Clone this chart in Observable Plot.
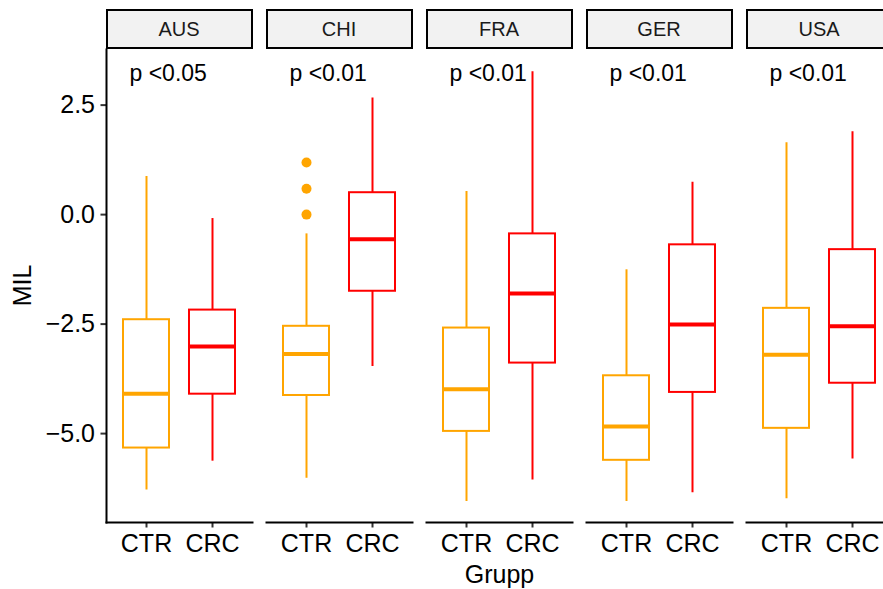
<!DOCTYPE html>
<html>
<head>
<meta charset="utf-8">
<script src="https://cdn.jsdelivr.net/npm/d3@7"></script>
<script src="https://cdn.jsdelivr.net/npm/@observablehq/plot@0.6"></script>
<style>
  html, body { margin: 0; padding: 0; background: #fff; overflow: hidden; }
  #chart { width: 883px; height: 589px; overflow: hidden; }
  #chart svg { max-width: none !important; }
</style>
</head>
<body>
<div id="chart"></div>
<script>
// ---- data ----
const countries = ["AUS", "CHI", "FRA", "GER", "USA"];
const groups = ["CTR", "CRC"];
const pLabels = ["p <0.05", "p <0.01", "p <0.01", "p <0.01", "p <0.01"];
const yTicks = [-5, -2.5, 0, 2.5];

const ctrLow    = [-6.29, -6.02, -6.55, -6.55, -6.49];
const ctrQ1     = [-5.33, -4.13, -4.95, -5.61, -4.88];
const ctrMedian = [-4.09, -3.18, -3.99, -4.84, -3.20];
const ctrQ3     = [-2.40, -2.55, -2.59, -3.68, -2.14];
const ctrHigh   = [ 0.87, -0.44,  0.53, -1.26,  1.64];

const crcLow    = [-5.63, -3.47, -6.06, -6.35, -5.58];
const crcQ1     = [-4.10, -1.75, -3.39, -4.06, -3.85];
const crcMedian = [-3.01, -0.56, -1.80, -2.51, -2.55];
const crcQ3     = [-2.18,  0.50, -0.44, -0.69, -0.80];
const crcHigh   = [-0.09,  2.66,  3.26,  0.74,  1.89];

const outlierCountry = ["CHI", "CHI", "CHI"];
const outlierGroup   = ["CTR", "CTR", "CTR"];
const outlierValue   = [1.19, 0.59, 0.0];

// ---- build tables ----
const boxes = [];
countries.forEach((c, i) => {
  boxes.push({country: c, group: "CTR", low: ctrLow[i], q1: ctrQ1[i], median: ctrMedian[i], q3: ctrQ3[i], high: ctrHigh[i]});
  boxes.push({country: c, group: "CRC", low: crcLow[i], q1: crcQ1[i], median: crcMedian[i], q3: crcQ3[i], high: crcHigh[i]});
});
const outliers = outlierValue.map((v, i) => ({country: outlierCountry[i], group: outlierGroup[i], value: v}));
const pData = countries.map((c, i) => ({country: c, label: pLabels[i]}));

const FONT = "'Liberation Sans', Arial, Helvetica, sans-serif";

const plot = Plot.plot({
  width: 894,
  height: 589,
  marginTop: 49,
  marginBottom: 67,
  marginLeft: 105,
  marginRight: 0,
  style: {fontFamily: FONT, fontSize: "24px", color: "black", background: "white", overflow: "visible", maxWidth: "none"},
  fx: {domain: countries, paddingInner: 14 / 160.5, paddingOuter: 0, axis: null, label: null},
  x: {domain: groups, type: "band", paddingInner: 0.3, paddingOuter: 0.25, axis: null, label: null},
  y: {domain: [-7.03, 3.77], axis: null, label: null},
  color: {domain: groups, range: ["#FFA500", "#FF0000"]},
  marks: [
    Plot.ruleX(boxes, {fx: "country", x: "group", y1: "low", y2: "high", stroke: "group", strokeWidth: 2}),
    Plot.barY(boxes, {fx: "country", x: "group", y1: "q1", y2: "q3", fill: "white", stroke: "group", strokeWidth: 2}),
    Plot.tickY(boxes, {fx: "country", x: "group", y: "median", stroke: "group", strokeWidth: 4}),
    Plot.dot(outliers, {fx: "country", x: "group", y: "value", fill: "group", r: 5, stroke: null}),
    Plot.text(pData, {fx: "country", text: "label", frameAnchor: "top-left", dx: 23, dy: 15, textAnchor: "start", fontSize: 23, fill: "black"}),
    Plot.axisY({ticks: yTicks, tickFormat: d3.format(".1f"), tickSize: 5.5, tickPadding: 6, fontSize: 25, label: null, stroke: "#333", strokeWidth: 2, fill: "black"}),
    Plot.axisX({tickSize: 5.5, tickPadding: 6, fontSize: 25, label: null, stroke: "#333", strokeWidth: 2, fill: "black"}),
    Plot.frame({anchor: "bottom", stroke: "black", strokeWidth: 2}),
    Plot.frame({anchor: "left", facetAnchor: "left", stroke: "black", strokeWidth: 2})
  ]
});

// ---- facet strips and axis titles, positioned through Plot's scales ----
const svg = d3.select(plot.tagName.toLowerCase() === "svg" ? plot : plot.querySelector("svg"));
const fx = plot.scale("fx");
const bw = fx.bandwidth;
const strips = svg.append("g");
countries.forEach(c => {
  const x0 = fx.apply(c);
  strips.append("rect")
    .attr("x", x0 + 1).attr("y", 10).attr("width", bw - 1).attr("height", 38)
    .attr("fill", "#F2F2F2").attr("stroke", "black").attr("stroke-width", 2);
  strips.append("text")
    .attr("x", x0 + bw / 2).attr("y", 29)
    .attr("text-anchor", "middle").attr("dominant-baseline", "central")
    .attr("font-family", FONT).attr("font-size", 20).attr("fill", "#1A1A1A")
    .text(c);
});
const xr = fx.range;
svg.append("text")
  .attr("x", (xr[0] + xr[1]) / 2).attr("y", 574)
  .attr("text-anchor", "middle").attr("dominant-baseline", "central")
  .attr("font-family", FONT).attr("font-size", 25).attr("fill", "black")
  .text("Grupp");
const yr = plot.scale("y").range;
svg.append("text")
  .attr("transform", `translate(22,${(yr[0] + yr[1]) / 2}) rotate(-90)`)
  .attr("text-anchor", "middle").attr("dominant-baseline", "central")
  .attr("font-family", FONT).attr("font-size", 25).attr("fill", "black")
  .text("MIL");

document.getElementById("chart").appendChild(plot);
</script>
</body>
</html>
